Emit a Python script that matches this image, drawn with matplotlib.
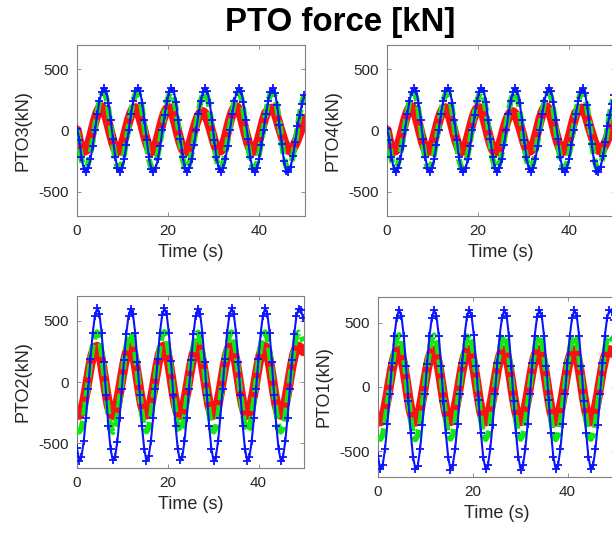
import matplotlib
matplotlib.use('Agg')
import matplotlib.pyplot as plt
import numpy as np

plt.rcParams['font.family'] = ['Liberation Sans', 'DejaVu Sans']
plt.rcParams['axes.unicode_minus'] = False

# sampling step of the simulation output (s)
dt = 0.4933

# ---- PTO3 / PTO4 (top row; both panels show the same traces) ----
top_blue = [15, -74, -218, -312, -339, -308, -232, -123, 4, 132, 241, 318, 349, 324, 229,
            86, -70, -215, -310, -342, -310, -230, -120, 6, 135, 243, 320, 346, 322, 226,
            84, -76, -220, -314, -338, -306, -233, -125, 2, 130, 240, 316, 352, 326, 231,
            88, -73, -217, -311, -340, -309, -231, -122, 5, 133, 242, 317, 344, 320, 225,
            85, -75, -219, -313, -341, -307, -232, -124, 3, 131, 241, 319, 350, 325, 230,
            87, -72, -216, -312, -338, -308, -230, -121, 6, 134, 243, 318, 348, 310, 205,
            49, -110, -247, -330, -338, -297, -211, -97, 34, 130, 215, 290]
top_green = [5, -115, -236, -305, -310, -269, -189, -83, 35, 148, 241, 299, 314, 271, 169,
             32, -112, -234, -303, -312, -270, -187, -80, 37, 150, 243, 301, 312, 269, 167,
             28, -117, -238, -307, -309, -268, -190, -85, 33, 146, 239, 297, 316, 273, 171,
             31, -114, -235, -304, -311, -271, -188, -82, 36, 149, 242, 300, 313, 270, 168,
             29, -116, -237, -306, -310, -268, -189, -84, 34, 147, 240, 298, 315, 272, 170,
             30, -113, -235, -305, -312, -270, -188, -82, 36, 149, 242, 300, 316, 280, 185,
             60, -95, -220, -295, -312, -285, -210, -105, 15, 135, 225, 290]
top_red = [0, -96, -146, -169, -161, -123, -63, 11, 84, 144, 183, 192, 167, 115, 47,
           -28, -98, -150, -172, -163, -124, -62, 12, 82, 140, 176, 184, 160, 112, 45,
           -30, -97, -148, -171, -165, -126, -64, 10, 81, 141, 177, 185, 161, 113, 44,
           -32, -100, -152, -176, -168, -128, -65, 6, 68, 118, 146, 152, 134, 94, 38,
           -26, -94, -147, -170, -162, -124, -62, 12, 86, 146, 184, 192, 168, 117, 48,
           -29, -97, -148, -172, -164, -125, -63, 10, 83, 143, 160, 178, 180, 155, 95,
           30, -30, -90, -135, -160, -165, -145, -110, -65, -15, 40, 95]

# ---- PTO2 / PTO1 (bottom row; both panels show the same traces) ----
bot_blue = [-540, -640, -608, -482, -291, -56, 184, 395, 540, 600, 556, 399, 165, -105, -357,
            -546, -636, -612, -485, -293, -58, 182, 393, 538, 598, 552, 397, 163, -107, -359,
            -542, -642, -606, -480, -289, -54, 186, 397, 542, 601, 555, 401, 167, -103, -355,
            -548, -638, -610, -484, -292, -57, 183, 394, 539, 597, 553, 398, 164, -106, -358,
            -543, -644, -607, -481, -290, -55, 185, 396, 541, 600, 556, 400, 166, -104, -356,
            -545, -639, -609, -483, -291, -56, 184, 395, 540, 599, 554, 399, 165, -105, -357,
            -544, -641, -608, -482, -292, -57, 183, 394, 539, 598, 585, 520]
bot_green = [-400, -405, -374, -285, -151, 6, 162, 292, 379, 405, 360, 245, 83, -95, -254,
             -362, -408, -376, -287, -153, 4, 160, 290, 377, 402, 358, 243, 81, -97, -256,
             -367, -403, -372, -283, -149, 8, 164, 294, 381, 408, 362, 247, 85, -93, -252,
             -364, -406, -375, -286, -152, 5, 161, 291, 378, 404, 359, 244, 82, -96, -255,
             -366, -404, -373, -284, -150, 7, 163, 293, 380, 406, 361, 246, 84, -94, -253,
             -365, -407, -374, -285, -151, 6, 162, 292, 379, 405, 360, 245, 83, -95, -254,
             -363, -405, -376, -286, -152, 5, 161, 291, 378, 404, 385, 330]
bot_red = [-265, -269, -239, -171, -74, 36, 142, 227, 279, 288, 246, 158, 43, -80, -185,
           -250, -272, -242, -173, -76, 34, 140, 225, 276, 285, 243, 156, 41, -82, -187,
           -254, -267, -237, -169, -72, 38, 144, 229, 282, 291, 249, 160, 45, -78, -183,
           -251, -270, -240, -172, -75, 35, 141, 226, 278, 287, 245, 157, 42, -81, -186,
           -253, -268, -238, -170, -73, 37, 143, 228, 280, 289, 247, 159, 44, -79, -184,
           -252, -271, -241, -172, -75, 35, 141, 226, 278, 287, 245, 157, 42, -81, -186,
           -253, -269, -239, -171, -74, 36, 142, 227, 279, 288, 275, 250]

x_ticks = [0, 20, 40]
y_ticks = [-500, 0, 500]
title = 'PTO force [kN]'
xlabel = 'Time (s)'

W, H = 612, 533
fig = plt.figure(figsize=(W / 100, H / 100), dpi=100)


def px_axes(left, top, width, height):
    return fig.add_axes([left / W, 1 - (top + height) / H, width / W, height / H])


def draw(ax, red, green, blue, ylabel):
    t = np.arange(len(blue)) * dt
    ax.plot(t, red, color='#ff1010', lw=7, solid_capstyle='round',
            solid_joinstyle='round', zorder=2)
    ax.plot(t, green, color='#10e810', lw=4.2, ls=(0, (2.4, 0.9)), zorder=3)
    ax.plot(t, blue, color='#0a14ff', lw=1.5, marker='+', ms=6, mew=1.3, zorder=4)
    ax.set_xlim(0, 50)
    ax.set_ylim(-700, 700)
    ax.set_xticks(x_ticks)
    ax.set_yticks(y_ticks)
    ax.tick_params(direction='in', top=True, right=True, length=3, width=0.6,
                   color='#808080', labelcolor='#262626', labelsize=11, pad=6)
    for s in ax.spines.values():
        s.set_color('#808080')
        s.set_linewidth(0.8)
    ax.set_xlabel(xlabel, fontsize=13, color='#262626', labelpad=4)
    ax.set_ylabel(ylabel, fontsize=13, color='#262626', labelpad=5)


ax3 = px_axes(77, 45, 228, 171)
draw(ax3, top_red, top_green, top_blue, 'PTO3(kN)')
ax4 = px_axes(387, 45, 228, 171)
draw(ax4, top_red, top_green, top_blue, 'PTO4(kN)')
ax2 = px_axes(77, 296, 227, 172)
draw(ax2, bot_red, bot_green, bot_blue, 'PTO2(kN)')
ax1 = px_axes(378, 297, 237, 180)
draw(ax1, bot_red, bot_green, bot_blue, 'PTO1(kN)')

fig.text(340 / W, 1 - 22 / H, title, ha='center', va='center',
         fontsize=23.8, fontweight='bold', color='black')

fig.savefig('out.png', dpi=100)
